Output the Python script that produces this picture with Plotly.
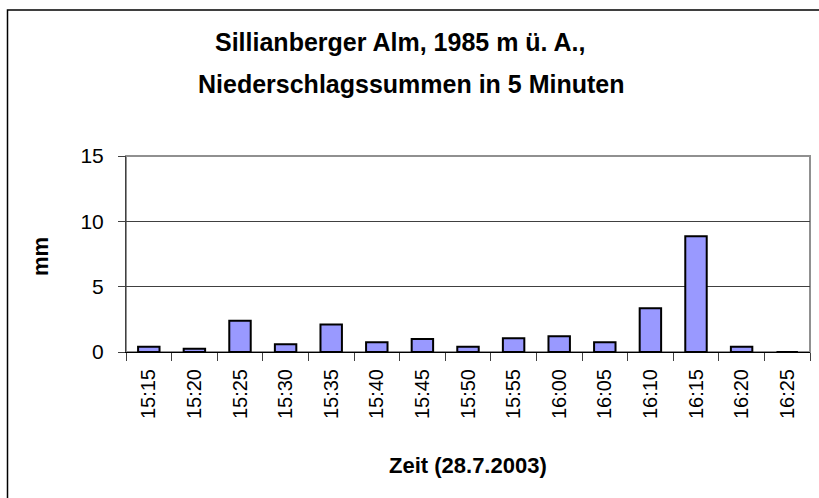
import plotly.graph_objects as go

times = ["15:15", "15:20", "15:25", "15:30", "15:35", "15:40", "15:45", "15:50",
         "15:55", "16:00", "16:05", "16:10", "16:15", "16:20", "16:25"]
precip_mm = [0.4, 0.25, 2.4, 0.6, 2.1, 0.75, 1.0, 0.4, 1.05, 1.2, 0.75, 3.35, 8.85, 0.4, 0.0]
y_ticks = [0, 5, 10, 15]

title_line1 = "Sillianberger Alm, 1985 m ü. A.,"
title_line2 = "Niederschlagssummen in 5 Minuten"
x_title = "Zeit (28.7.2003)"
y_title = "mm"

FONT = "Liberation Sans, Arial, sans-serif"

fig = go.Figure(go.Bar(
    x=times, y=precip_mm,
    marker=dict(color="#9999ff", line=dict(color="black", width=2)),
))

W, H = 819, 498
L, R, T, B = 126, 9, 156, 146
pw, ph = W - L - R, H - T - B

def px(x):
    return (x - L) / pw

def py(y):
    return (H - B - y) / ph

fig.update_layout(
    width=W, height=H,
    margin=dict(l=L, r=R, t=T, b=B, pad=0),
    paper_bgcolor="white", plot_bgcolor="white",
    bargap=0.53,
    showlegend=False,
    font=dict(family=FONT, color="black"),
    xaxis=dict(
        type="category", tickson="boundaries", ticks="outside", ticklen=8,
        tickcolor="#404040", tickwidth=1,
        showline=True, linecolor="black", linewidth=1,
        tickangle=-90, tickfont=dict(size=20, family=FONT, color="black"),
        ticklabelstandoff=8,
        showgrid=False,
    ),
    yaxis=dict(
        range=[0, 15], tickvals=y_ticks, ticks="outside", ticklen=7,
        tickcolor="#404040", tickwidth=1,
        showline=True, linecolor="#404040", linewidth=1,
        showgrid=True, gridcolor="#404040", gridwidth=1,
        zeroline=False,
        tickfont=dict(size=21, family=FONT, color="black"),
        ticklabelstandoff=10,
    ),
    shapes=[
        dict(type="rect", xref="paper", yref="paper", x0=0, x1=1, y0=0, y1=1,
             line=dict(color="#909090", width=2), layer="below"),
        dict(type="rect", xref="paper", yref="paper",
             x0=px(7.5), x1=px(830), y0=py(515), y1=py(10),
             line=dict(color="black", width=1.5)),
    ],
    annotations=[
        dict(text="<b>" + title_line1 + "</b>", xref="paper", yref="paper",
             x=px(400), y=py(42), xanchor="center", yanchor="middle",
             showarrow=False, font=dict(size=25, family=FONT, color="black")),
        dict(text="<b>" + title_line2 + "</b>", xref="paper", yref="paper",
             x=px(411), y=py(84), xanchor="center", yanchor="middle",
             showarrow=False, font=dict(size=25, family=FONT, color="black")),
        dict(text="<b>" + x_title + "</b>", xref="paper", yref="paper",
             x=px(468), y=py(465), xanchor="center", yanchor="middle",
             showarrow=False, font=dict(size=22, family=FONT, color="black")),
        dict(text="<b>" + y_title + "</b>", xref="paper", yref="paper",
             x=px(40), y=py(257), xanchor="center", yanchor="middle",
             textangle=-90,
             showarrow=False, font=dict(size=22, family=FONT, color="black")),
    ],
)

fig.write_html("out.html", config={"displayModeBar": False},
               post_script="document.body.style.margin='0';")
